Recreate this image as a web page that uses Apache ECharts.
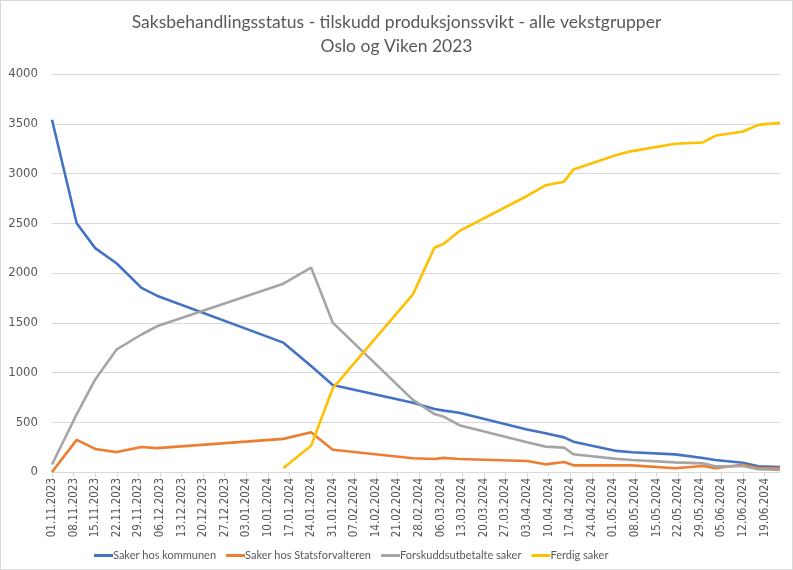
<!DOCTYPE html>
<html>
<head>
<meta charset="utf-8">
<script src="https://cdn.jsdelivr.net/npm/echarts@6/dist/echarts.min.js"></script>
<style>
  html, body { margin: 0; padding: 0; background: #fff; }
  #chart { width: 791px; height: 568px; border: 1px solid #d9d9d9; }
</style>
</head>
<body>
<div id="chart"></div>
<script>
// datoer for målepunktene
const dates = [
  '01.11.2023', '09.11.2023', '15.11.2023', '22.11.2023', '30.11.2023', '05.12.2023',
  '15.01.2024', '24.01.2024', '31.01.2024', '26.02.2024', '04.03.2024', '07.03.2024',
  '12.03.2024', '03.04.2024', '09.04.2024', '15.04.2024', '18.04.2024', '02.05.2024',
  '07.05.2024', '21.05.2024', '30.05.2024', '03.06.2024', '12.06.2024', '17.06.2024',
  '24.06.2024'
];

const kommunen = [3540, 2500, 2250, 2095, 1850, 1772, 1300, 1065, 874, 695, 633, 617,
  595, 428, 390, 348, 305, 212, 198, 177, 141, 120, 93, 57, 50];
const statsforvalteren = [0, 323, 232, 200, 252, 240, 333, 400, 223, 138, 130, 142,
  130, 110, 77, 100, 67, 67, 67, 37, 60, 37, 73, 37, 37];
const forskudd = [75, 580, 930, 1233, 1382, 1464, 1892, 2055, 1501, 725, 582, 556,
  470, 300, 255, 245, 179, 132, 120, 97, 87, 57, 60, 28, 20];
const ferdig = [null, null, null, null, null, null, 40, 263, 840, 1785, 2256, 2293,
  2420, 2774, 2881, 2918, 3041, 3185, 3225, 3299, 3312, 3379, 3422, 3489, 3509];

// etiketter på x-aksen (hver 7. dag)
const tickLabels = [
  '01.11.2023', '08.11.2023', '15.11.2023', '22.11.2023', '29.11.2023', '06.12.2023',
  '13.12.2023', '20.12.2023', '27.12.2023', '03.01.2024', '10.01.2024', '17.01.2024',
  '24.01.2024', '31.01.2024', '07.02.2024', '14.02.2024', '21.02.2024', '28.02.2024',
  '06.03.2024', '13.03.2024', '20.03.2024', '27.03.2024', '03.04.2024', '10.04.2024',
  '17.04.2024', '24.04.2024', '01.05.2024', '08.05.2024', '15.05.2024', '22.05.2024',
  '29.05.2024', '05.06.2024', '12.06.2024', '19.06.2024'
];

const seriesNames = ['Saker hos kommunen', 'Saker hos Statsforvalteren',
  'Forskuddsutbetalte saker', 'Ferdig saker'];
const colors = ['#4472C4', '#ED7D31', '#A5A5A5', '#FFC000'];

const DAY = 24 * 3600 * 1000;
function toTime(s) {
  const p = s.split('.');
  return Date.UTC(+p[2], +p[1] - 1, +p[0]);
}
const start = toTime(dates[0]);
function toDay(s) { return Math.round((toTime(s) - start) / DAY); }
function dayLabel(d) {
  const t = new Date(start + d * DAY);
  const dd = String(t.getUTCDate()).padStart(2, '0');
  const mm = String(t.getUTCMonth() + 1).padStart(2, '0');
  return dd + '.' + mm + '.' + t.getUTCFullYear();
}

const tickDays = tickLabels.map(toDay);
const font = '"DejaVu Sans Condensed", sans-serif';
const textFont = 'Lato, sans-serif';

function makeSeries(name, values, color) {
  return {
    name: name,
    type: 'line',
    showSymbol: false,
    symbol: 'none',
    connectNulls: false,
    lineStyle: { width: 2.6, color: color },
    itemStyle: { color: color },
    data: dates.map((d, i) => [toDay(d), values[i]])
  };
}

const chart = echarts.init(document.getElementById('chart'));
chart.setOption({
  animation: false,
  title: {
    text: 'Saksbehandlingsstatus - tilskudd produksjonssvikt - alle vekstgrupper\nOslo og Viken 2023',
    left: 'center',
    top: 4,
    textStyle: { fontFamily: textFont, fontSize: 17.5, fontWeight: 'normal', color: '#595959', lineHeight: 24 }
  },
  legend: {
    bottom: 3,
    left: 88,
    itemWidth: 19,
    itemHeight: 3,
    itemGap: 10,
    icon: 'rect',
    textStyle: { fontFamily: textFont, fontSize: 11, color: '#595959', padding: [0, 0, 0, -5] },
    data: seriesNames
  },
  grid: { left: 51, right: 12, top: 73, bottom: 97, outerBoundsMode: 'none' },
  xAxis: {
    type: 'value',
    min: 0,
    max: toDay(dates[dates.length - 1]),
    interval: 7,
    splitLine: { show: false },
    axisLine: { show: true, lineStyle: { color: '#d9d9d9', width: 1 } },
    axisTick: { show: true, length: 5, lineStyle: { color: '#d9d9d9' }, customValues: tickDays },
    axisLabel: {
      rotate: 90,
      margin: 6,
      fontFamily: font,
      fontSize: 11.5,
      color: '#595959',
      customValues: tickDays,
      formatter: v => dayLabel(v)
    }
  },
  yAxis: {
    type: 'value',
    min: 0,
    max: 4000,
    interval: 500,
    axisLine: { show: false },
    axisTick: { show: false },
    splitLine: { lineStyle: { color: '#d9d9d9', width: 1 } },
    axisLabel: { margin: 14, fontFamily: font, fontSize: 13, color: '#595959', formatter: v => String(v) }
  },
  series: seriesNames.map((n, i) => makeSeries(n, [kommunen, statsforvalteren, forskudd, ferdig][i], colors[i]))
});
</script>
</body>
</html>
